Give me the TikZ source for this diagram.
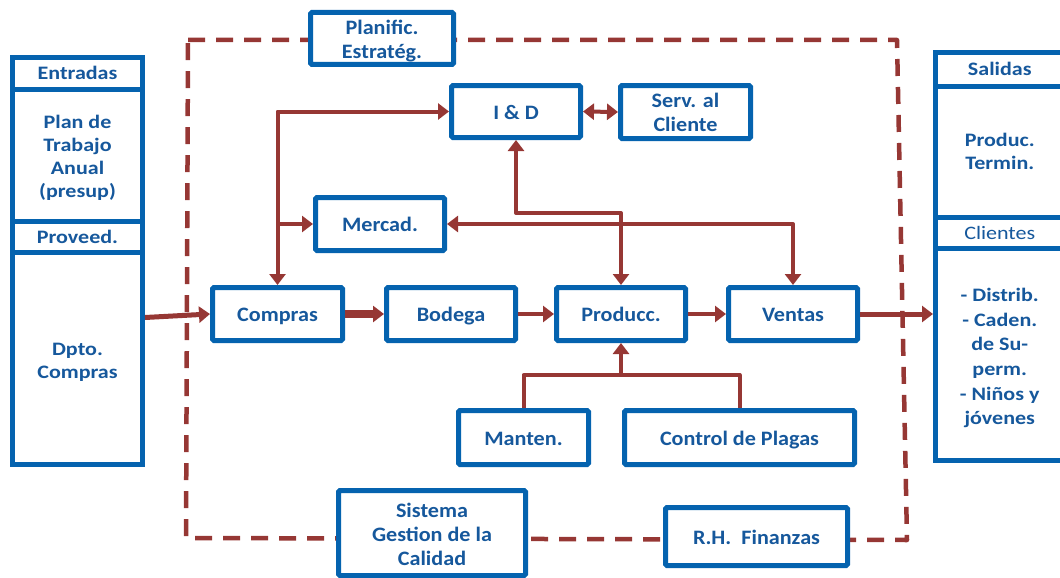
\documentclass[tikz,border=0pt]{standalone}
\usepackage{fontspec}
\setmainfont{Carlito}[FakeStretch=1.08]
\newfontfamily\sidefont{Carlito}[FakeStretch=1.16]
\usetikzlibrary{arrows.meta}
\definecolor{boxblue}{RGB}{5,99,175}
\definecolor{txtblue}{RGB}{22,88,156}
\definecolor{linkred}{RGB}{150,55,52}
% invisible strut that sets the height of a first text line
\newcommand\tallstrut[1]{\rule{0pt}{#1}}

\begin{document}
\begin{tikzpicture}[x=1pt,y=-1pt,
  bx/.style={draw=boxblue, line width=5pt, fill=white, rounded corners=1.5pt,
    inner sep=0pt, align=center, text=txtblue,
    font=\fontsize{20.5}{24}\selectfont\bfseries},
  one/.style={text height=15pt, text depth=0pt},
  cell/.style={bx, rounded corners=0pt, minimum width=130pt,
    font=\sidefont\fontsize{19}{23}\selectfont\bfseries},
  rcell/.style={cell, minimum width=128.5pt},
  tip/.tip={Triangle[length=11pt,width=16pt]},
  link/.style={draw=linkred, line width=4pt, line join=round, -tip},
  twoway/.style={link, tip-tip},
  border/.style={draw=linkred, line width=4.5pt, line join=round,
    dash pattern=on 17pt off 11pt}]
\useasboundingbox (0,0) rectangle (1060,578);
\clip (0,0) rectangle (1060,578);

% dashed company boundary
\draw[border] (188,40) -- (897,40) -- (907,540) -- (186,538) -- cycle;

% inputs column
\node[cell, minimum height=31.5pt] (entradas) at (77.5,73.25) {Entradas};
\node[cell, minimum height=132pt] (plan) at (77.5,155) {\tallstrut{18.4pt}Plan de\\Trabajo\\Anual\\(presup)};
\node[cell, minimum height=31pt] (proveed) at (77.5,236.5) {Proveed.};
\node[cell, minimum height=212.5pt] (dpto) at (77.5,358.25) {\tallstrut{20.7pt}Dpto.\\Compras};

% outputs column
\node[rcell, minimum height=33.5pt] (salidas) at (999.75,69.25) {Salidas};
\node[rcell, minimum height=131pt] (produc) at (999.75,151.5) {Produc.\\Termin.};
\node[rcell, minimum height=31pt, font=\sidefont\fontsize{19}{23}\selectfont] (clientes) at (999.75,232.5) {Clientes};
\node[rcell, minimum height=212.5pt, font=\sidefont\fontsize{19}{24.6}\selectfont\bfseries] (lista) at (999.75,354.25)
  {\tallstrut{21.1pt}- Distrib.\\- Caden.\\de Su-\\perm.\\- Niños y\\jóvenes};

% internal areas
\node[bx, minimum width=143pt, minimum height=52pt] (planif) at (382,38.5) {\tallstrut{19.8pt}Planific.\\Estratég.};
\node[bx, one, minimum width=129pt, minimum height=52pt] (id) at (516,111.5) {I \& D};
\node[bx, minimum width=130pt, minimum height=53pt] (serv) at (685.5,112) {Serv. al\\Cliente};
\node[bx, one, minimum width=129pt, minimum height=53pt] (mercad) at (380,224) {Mercad.};
\node[bx, one, minimum width=130pt, minimum height=53pt] (compras) at (277.5,314) {Compras};
\node[bx, one, minimum width=129pt, minimum height=53pt] (bodega) at (451,314) {Bodega};
\node[bx, one, minimum width=129pt, minimum height=53pt] (producc) at (621,314) {Producc.};
\node[bx, one, minimum width=129pt, minimum height=53pt] (ventas) at (793,314) {Ventas};
\node[bx, one, minimum width=130pt, minimum height=54pt] (manten) at (523.5,437.5) {Manten.};
\node[bx, one, minimum width=230pt, minimum height=54pt] (plagas) at (739.5,437.5) {Control de Plagas};
\node[bx, minimum width=187pt, minimum height=85pt] (sistema) at (432,533) {\tallstrut{17.6pt}Sistema\\Gestion de la\\Calidad};
\node[bx, one, minimum width=182pt, minimum height=58pt] (rh) at (756.5,536.5) {R.H.\ \ Finanzas};

% main flow
\draw[link, line width=5pt] (dpto.east |- 0,317.5) -- (compras.west);
\draw[link, line width=8pt] (compras.east) -- (bodega.west);
\draw[link] (bodega.east) -- (producc.west);
\draw[link] (producc.east) -- (ventas.west);
\draw[link, line width=5pt] (ventas.east) -- (ventas.east -| lista.west);

% support links
\draw[twoway] (compras.north) |- (id.west);
\coordinate (tomercad) at (compras.north |- mercad.west);
\draw[link] (tomercad) -- (mercad.west);
\draw[twoway] (id.east) -- (serv.west);
\draw[twoway] (id.south) -- (id.south |- 0,213) -| (producc.north);
\draw[twoway] (mercad.east) -| (ventas.north);

% maintenance and pest control feed production
\coordinate (join) at (producc.south |- 0,375);
\draw[link, -] (manten.north) |- (join) -| (plagas.north);
\draw[link] (join) -- (producc.south);
\end{tikzpicture}
\end{document}
